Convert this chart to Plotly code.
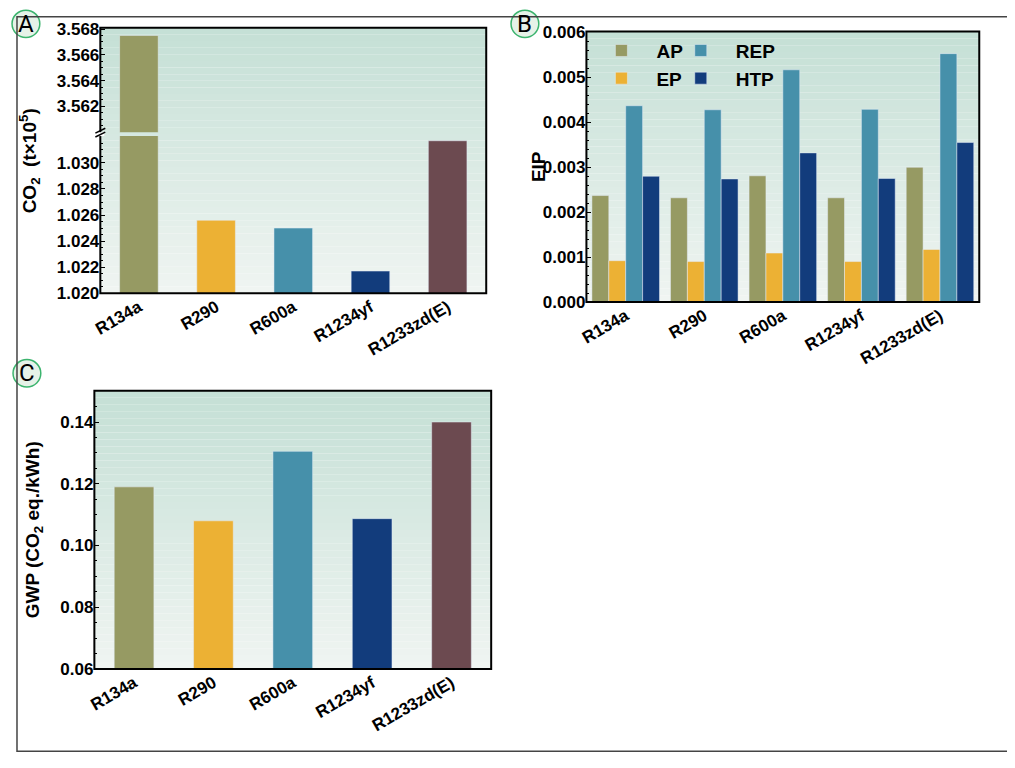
import plotly.graph_objects as go

refrigerants = ['R134a', 'R290', 'R600a', 'R1234yf', 'R1233zd(E)']
bar_colors = ['#969a63', '#ecb134', '#4690aa', '#123c7c', '#6c4a50']

# panel A: CO2 (t x 10^5), broken axis
co2 = [3.5675, 1.0256, 1.0250, 1.0217, 1.0317]

# panel B: EIP
eip_ap = [0.00237, 0.00232, 0.00281, 0.00232, 0.00300]
eip_ep = [0.00092, 0.00090, 0.00109, 0.00090, 0.00117]
eip_rep = [0.00437, 0.00428, 0.00517, 0.00429, 0.00553]
eip_htp = [0.00280, 0.00274, 0.00332, 0.00275, 0.00355]

# panel C: GWP
gwp = [0.119, 0.108, 0.1305, 0.1087, 0.140]

# page shifts the figure by a few px, so work in a slightly smaller canvas
OX, OY = 11, 14
W, H = 1015 - OX, 768 - OY
def px_x(v): return (v - OX) / W
def px_y(v): return 1 - (v - OY) / H

fig = go.Figure()

# panel A lower + upper (same values, different ranges)
fig.add_trace(go.Bar(x=refrigerants, y=co2, marker_color=bar_colors, width=0.5,
                     xaxis='x', yaxis='y', showlegend=False))
fig.add_trace(go.Bar(x=refrigerants, y=co2, marker_color=bar_colors, width=0.5,
                     xaxis='x2', yaxis='y2', showlegend=False))

# panel B
for name, vals, col, lg in [('AP', eip_ap, '#969a63', 'legend'), ('EP', eip_ep, '#ecb134', 'legend'),
                            ('REP', eip_rep, '#4690aa', 'legend2'), ('HTP', eip_htp, '#123c7c', 'legend2')]:
    fig.add_trace(go.Bar(x=refrigerants, y=vals, name=name, marker_color=col,
                         xaxis='x3', yaxis='y3', legend=lg))

# panel C
fig.add_trace(go.Bar(x=refrigerants, y=gwp, marker_color=bar_colors, width=0.5,
                     xaxis='x4', yaxis='y4', showlegend=False))

tickfont = dict(family='Liberation Sans', size=17, color='black', weight='bold')
yax = dict(ticks='inside', ticklen=5, tickcolor='black', showgrid=False, zeroline=False,
           tickfont=tickfont, minor=dict(ticks='inside', ticklen=3, tickcolor='black'))
xax = dict(ticks='', showgrid=False, tickangle=-30, tickfont=tickfont)

domA = [px_x(96), px_x(485)]
domB = [px_x(586), px_x(982)]
domC = [px_x(90), px_x(490)]
yA_lo = [px_y(298), px_y(137)]
yA_hi = [px_y(133), px_y(26)]
yB = [px_y(307), px_y(30)]
yC = [px_y(683), px_y(398)]

legfont = dict(family='Liberation Sans', size=19, color='black', weight='bold')
fig.update_layout(
    width=W, height=H, margin=dict(l=0, r=0, t=0, b=0),
    paper_bgcolor='white', plot_bgcolor='rgba(0,0,0,0)',
    bargap=0.14, bargroupgap=0, barmode='group',
    xaxis=dict(xax, domain=domA, anchor='y'),
    yaxis=dict(yax, domain=yA_lo, range=[1.020, 1.03206], dtick=0.002, tickformat='.3f', anchor='x',
               tickvals=[1.020, 1.022, 1.024, 1.026, 1.028, 1.030]),
    xaxis2=dict(xax, domain=domA, anchor='y2', showticklabels=False),
    yaxis2=dict(yax, domain=yA_hi, range=[3.560, 3.5681], tickformat='.3f', anchor='x2',
                tickvals=[3.562, 3.564, 3.566, 3.568]),
    xaxis3=dict(xax, domain=domB, anchor='y3'),
    yaxis3=dict(yax, domain=yB, range=[0, 0.00602], dtick=0.001, tickformat='.3f', anchor='x3'),
    xaxis4=dict(xax, domain=domC, anchor='y4'),
    yaxis4=dict(yax, domain=yC, range=[0.06, 0.1501], dtick=0.02, tickformat='.2f', anchor='x4'),
    legend=dict(x=px_x(586), y=px_y(30), xanchor='left', yanchor='top', bgcolor='rgba(0,0,0,0)',
                font=legfont, itemwidth=60, tracegroupgap=0),
    legend2=dict(x=px_x(666), y=px_y(30), xanchor='left', yanchor='top', bgcolor='rgba(0,0,0,0)',
                 font=legfont, itemwidth=60),
)

shapes = []
# gradient backgrounds
def gradient(x0, x1, y0, y1, n=40):
    top = (197, 224, 214)
    bot = (240, 245, 242)
    for i in range(n):
        t = i / (n - 1)
        c = tuple(int(top[k] + (bot[k] - top[k]) * t) for k in range(3))
        ya = y1 - (y1 - y0) * i / n
        yb = y1 - (y1 - y0) * (i + 1) / n
        shapes.append(dict(type='rect', xref='paper', yref='paper', x0=x0, x1=x1, y0=yb, y1=ya,
                           fillcolor='rgb(%d,%d,%d)' % c, line=dict(width=0), layer='below'))

gradient(domA[0], domA[1], yA_lo[0], yA_hi[1])
gradient(domB[0], domB[1], yB[0], yB[1])
gradient(domC[0], domC[1], yC[0], yC[1])

for dx, dy in [(domA, (yA_lo[0], yA_hi[1])), (domB, yB), (domC, yC)]:
    shapes.append(dict(type='rect', xref='paper', yref='paper', x0=dx[0], x1=dx[1], y0=dy[0], y1=dy[1],
                       line=dict(color='black', width=2), layer='above'))

# break marks on panel A
shapes.append(dict(type='rect', xref='paper', yref='paper', x0=domA[0] - 0.004, x1=domA[0] + 0.004,
                   y0=yA_lo[1], y1=yA_hi[0], fillcolor='white', line=dict(width=0), layer='above'))
for off in [0, 4]:
    shapes.append(dict(type='line', xref='paper', yref='paper', x0=px_x(91), x1=px_x(101),
                       y0=px_y(134 + off), y1=px_y(129 + off), line=dict(color='black', width=1.5)))
# full frame border
shapes.append(dict(type='rect', xref='paper', yref='paper', x0=0.001, x1=0.999, y0=0.001, y1=0.999,
                   line=dict(color='#444', width=1.5)))
fig.update_layout(shapes=shapes)

annots = [
    dict(text='CO<sub>2</sub>  (t×10<sup>5</sup>)', x=px_x(25), y=px_y(162)),
    dict(text='EIP', x=px_x(538), y=px_y(168)),
    dict(text='GWP (CO<sub>2</sub> eq./kWh)', x=px_x(30), y=px_y(540)),
]
for a in annots:
    fig.add_annotation(xref='paper', yref='paper', showarrow=False, textangle=-90,
                       xanchor='center', yanchor='middle',
                       font=dict(family='Liberation Sans', size=19, color='black', weight='bold'), **a)
for letter, cx, cy in [('A', 21, 22), ('B', 524, 22), ('C', 22, 380)]:
    fig.add_annotation(text=letter, xref='paper', yref='paper', x=px_x(cx), y=px_y(cy), showarrow=False,
                       xanchor='center', yanchor='middle',
                       font=dict(family='Roboto', size=24, color='black'))
    fig.add_shape(type='circle', xref='paper', yref='paper', x0=px_x(cx - 14), x1=px_x(cx + 14),
                  y0=px_y(cy + 14), y1=px_y(cy - 14), line=dict(color='#3cb46e', width=1.5),
                  fillcolor='#e6f2e8', layer='below')

fig.write_html("out.html")
